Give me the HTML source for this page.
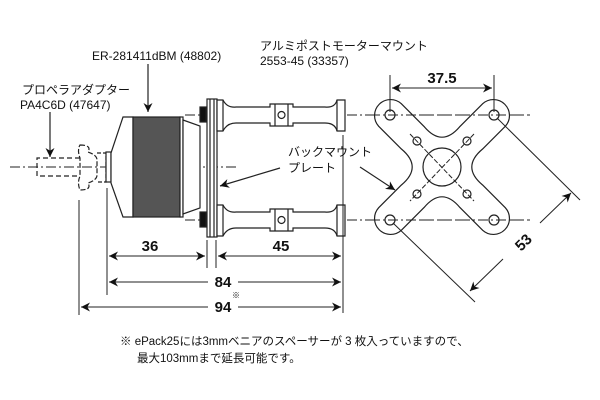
<!DOCTYPE html>
<html><head><meta charset="utf-8"><style>
html,body{margin:0;padding:0;background:#fff}
svg{display:block}
text{font-family:"Liberation Sans","Noto Sans CJK JP",sans-serif;fill:#111}
</style></head><body>
<svg width="600" height="400" viewBox="0 0 600 400" xmlns="http://www.w3.org/2000/svg">
<defs>
<marker id="a" viewBox="0 0 10 10" refX="10" refY="5" markerWidth="9" markerHeight="9" orient="auto-start-reverse" markerUnits="userSpaceOnUse"><path d="M0,0 L10,5 L0,10 L3,5 Z" fill="#111"/></marker>
</defs>
<g stroke="#222" stroke-width="1.2" fill="none">
<line x1="10" y1="167" x2="238" y2="167" stroke-dasharray="10,3,2,3" stroke-width="1"/>
<line x1="185" y1="115" x2="530" y2="115" stroke-dasharray="10,3,2,3" stroke-width="1"/>
<line x1="185" y1="220" x2="530" y2="220" stroke-dasharray="10,3,2,3" stroke-width="1"/>
<path d="M80,158 H37 V176 H80" stroke-dasharray="5,3"/>
<path d="M80,145 Q92,145 88,152 Q97,155 97,160 V175 Q97,180 88,183 Q92,190 80,190 Q77,183 80,176 V158 Q77,150 80,145 Z" stroke-dasharray="5,2"/>
<path d="M97,153 H106 V182 H97" stroke-dasharray="4,2"/>
<rect x="106" y="152" width="5" height="30" fill="#fff"/>
<path d="M111,153 L123,117 H133 V217 H123 L111,183 Z" fill="#fff"/>
<rect x="133" y="117" width="47" height="100" fill="#555"/>
<rect x="180" y="117" width="3" height="100" fill="#fff"/>
<path d="M183,120 L200,126 V208 L183,214 Z" fill="#fff"/>
<rect x="200" y="107" width="6" height="15" fill="#111"/>
<rect x="200" y="212" width="6" height="15" fill="#111"/>
<rect x="207" y="99" width="10" height="138" fill="#fff"/>
<line x1="210" y1="99" x2="210" y2="237"/>
<line x1="214" y1="99" x2="214" y2="237"/>
<g id="p">
<path d="M217,100 H223 Q227,108 236,107 H270 V104 H293 V107 H325 Q335,108 337,100 H345 V131 H337 Q335,123 325,123 H293 V126 H270 V123 H236 Q227,123 223,131 H217 Z" fill="#fff"/>
<line x1="223" y1="100" x2="223" y2="131"/><line x1="337" y1="100" x2="337" y2="131"/>
<line x1="275" y1="104" x2="275" y2="126"/><line x1="288" y1="104" x2="288" y2="126"/>
<circle cx="281.5" cy="115" r="3.5"/>
</g>
<use href="#p" transform="translate(0,105)"/>
<path d="M401.3,103.7 L424,126.4 Q442,148 460,126.4 L482.7,103.7 A16 16 0 0 1 505.3,126.3 L482.6,149 Q461,167 482.6,185 L505.3,207.7 A16 16 0 0 1 482.7,230.3 L460,207.6 Q442,186 424,207.6 L401.3,230.3 A16 16 0 0 1 378.7,207.7 L401.4,185 Q423,167 401.4,149 L378.7,126.3 A16 16 0 0 1 401.3,103.7 Z" fill="#fff"/>
<circle cx="390" cy="115" r="5"/><circle cx="494" cy="115" r="5"/>
<circle cx="390" cy="220" r="5"/><circle cx="494" cy="220" r="5"/>
<circle cx="442" cy="167" r="19"/>
<circle cx="417" cy="141" r="4"/><circle cx="467" cy="141" r="4"/>
<circle cx="417" cy="194" r="4"/><circle cx="467" cy="194" r="4"/>
<line x1="410" y1="134" x2="474" y2="201" stroke-dasharray="5,2" stroke-width="1"/>
<line x1="474" y1="134" x2="410" y2="201" stroke-dasharray="5,2" stroke-width="1"/>
<line x1="370" y1="115" x2="530" y2="115" stroke-dasharray="10,3,2,3" stroke-width="1"/>
<line x1="370" y1="220" x2="530" y2="220" stroke-dasharray="10,3,2,3" stroke-width="1"/>
<line x1="390" y1="75" x2="390" y2="112" stroke-width="1"/>
<line x1="494" y1="75" x2="494" y2="112" stroke-width="1"/>
<line x1="392" y1="88" x2="492" y2="88" marker-start="url(#a)" marker-end="url(#a)" stroke-width="1"/>
<line x1="497" y1="118" x2="580" y2="200" stroke-width="1"/>
<line x1="393" y1="223" x2="475" y2="302" stroke-width="1"/>
<line x1="571" y1="193" x2="540" y2="223" marker-start="url(#a)" stroke-width="1"/>
<line x1="503" y1="259" x2="470" y2="291" marker-end="url(#a)" stroke-width="1"/>
<line x1="79" y1="200" x2="79" y2="315" stroke-width="1"/>
<line x1="107" y1="188" x2="107" y2="295" stroke-width="1"/>
<line x1="207" y1="240" x2="207" y2="268" stroke-width="1"/>
<line x1="216" y1="240" x2="216" y2="268" stroke-width="1"/>
<line x1="343" y1="135" x2="343" y2="313" stroke-width="1"/>
<line x1="109" y1="256" x2="205" y2="256" marker-start="url(#a)" marker-end="url(#a)" stroke-width="1"/>
<line x1="218" y1="256" x2="341" y2="256" marker-start="url(#a)" marker-end="url(#a)" stroke-width="1"/>
<line x1="109" y1="282" x2="208" y2="282" marker-start="url(#a)" stroke-width="1"/>
<line x1="238" y1="282" x2="341" y2="282" marker-end="url(#a)" stroke-width="1"/>
<line x1="81" y1="307" x2="208" y2="307" marker-start="url(#a)" stroke-width="1"/>
<line x1="238" y1="307" x2="341" y2="307" marker-end="url(#a)" stroke-width="1"/>
<line x1="148" y1="64" x2="148" y2="112" marker-end="url(#a)"/>
<line x1="50" y1="112" x2="50" y2="157" marker-end="url(#a)"/>
<line x1="280" y1="168" x2="220" y2="186" marker-end="url(#a)"/>
<line x1="360" y1="167" x2="395" y2="190" marker-end="url(#a)"/>
</g>
<g font-size="12">
<text x="92" y="60">ER-281411dBM (48802)</text>
<text x="22" y="94">プロペラアダプター</text>
<text x="20" y="109">PA4C6D (47647)</text>
<text x="260" y="50">アルミポストモーターマウント</text>
<text x="260" y="65">2553-45 (33357)</text>
<text x="288" y="156">バックマウント</text>
<text x="288" y="172">プレート</text>
</g>
<g font-size="15" font-weight="bold" text-anchor="middle">
<text x="442" y="83">37.5</text>
<text x="150" y="251">36</text>
<text x="281" y="251">45</text>
<text x="223" y="287">84</text>
<text x="223" y="312">94</text>
<text x="0" y="0" transform="translate(527,246) rotate(-45)">53</text>
</g>
<text x="232" y="298" font-size="8">※</text>
<g font-size="11.5">
<text x="120" y="345">※ ePack25には3mmベニアのスペーサーが 3 枚入っていますので、</text>
<text x="137" y="362">最大103mmまで延長可能です。</text>
</g>
</svg>
</body></html>
